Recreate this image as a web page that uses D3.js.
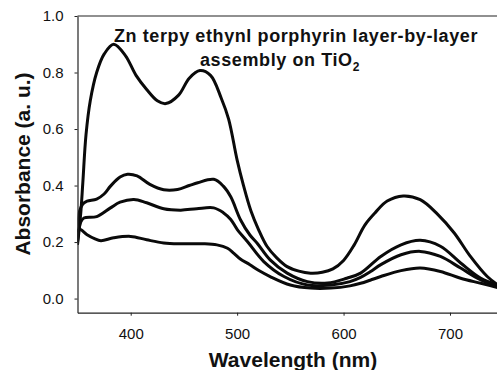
<!DOCTYPE html>
<html>
<head>
<meta charset="utf-8">
<script src="https://cdn.jsdelivr.net/npm/d3@7"></script>
<style>
  body { margin: 0; background: #fff; }
  text { font-family: "Liberation Sans", Arial, sans-serif; fill: #111; }
</style>
</head>
<body>
<script>
const w = 497;
const h = 370;

// spectra (wavelength in nm, absorbance in a.u.)
const wl1  = [350, 353, 355, 358, 362, 368, 375, 384, 395, 405, 415, 425, 433, 445, 455, 465, 475, 485, 492, 500, 506, 513, 520, 528, 537, 547, 558, 569, 580, 590, 600, 610, 620, 630, 641, 656, 672, 688, 704, 719, 735, 750];
const abs1 = [0.19, 0.30, 0.41, 0.58, 0.70, 0.80, 0.865, 0.90, 0.86, 0.79, 0.74, 0.70, 0.69, 0.72, 0.78, 0.807, 0.79, 0.71, 0.635, 0.49, 0.40, 0.31, 0.245, 0.185, 0.145, 0.113, 0.097, 0.09, 0.093, 0.105, 0.135, 0.19, 0.26, 0.305, 0.345, 0.363, 0.35, 0.30, 0.232, 0.15, 0.078, 0.035];

const wl2  = [350, 352, 355, 359, 368, 375, 381, 390, 397, 406, 418, 431, 444, 455, 463, 478, 487, 494, 503, 512, 519, 531, 547, 566, 585, 603, 616, 635, 654, 672, 691, 710, 729, 750];
const abs2 = [0.20, 0.31, 0.335, 0.345, 0.352, 0.37, 0.398, 0.43, 0.44, 0.434, 0.404, 0.385, 0.386, 0.40, 0.41, 0.422, 0.398, 0.36, 0.28, 0.225, 0.195, 0.137, 0.09, 0.06, 0.055, 0.072, 0.09, 0.149, 0.19, 0.206, 0.185, 0.126, 0.072, 0.042];

const wl3  = [350, 353, 356, 368, 381, 390, 403, 415, 431, 447, 462, 478, 487, 494, 500, 510, 525, 544, 566, 588, 606, 616, 625, 635, 654, 672, 691, 710, 729, 750];
const abs3 = [0.20, 0.27, 0.285, 0.29, 0.321, 0.341, 0.351, 0.339, 0.318, 0.313, 0.318, 0.321, 0.304, 0.28, 0.245, 0.20, 0.131, 0.078, 0.048, 0.048, 0.06, 0.075, 0.095, 0.12, 0.155, 0.167, 0.149, 0.108, 0.066, 0.038];

const wl4  = [350, 352, 359, 366, 372, 384, 400, 415, 431, 447, 468, 481, 491, 497, 503, 512, 520, 531, 550, 569, 588, 606, 616, 625, 635, 654, 672, 691, 710, 729, 750];
const abs4 = [0.235, 0.245, 0.226, 0.212, 0.205, 0.215, 0.22, 0.208, 0.197, 0.194, 0.194, 0.19, 0.178, 0.16, 0.14, 0.12, 0.10, 0.078, 0.048, 0.037, 0.037, 0.045, 0.054, 0.065, 0.078, 0.099, 0.108, 0.096, 0.072, 0.054, 0.034];

const xTicks = [400, 500, 600, 700];
const yTicks = [0.0, 0.2, 0.4, 0.6, 0.8, 1.0];

const titleLine1 = "Zn terpy ethynl porphyrin layer-by-layer";
const titleLine2 = "assembly on TiO";
const xLabel = "Wavelength (nm)";
const yLabel = "Absorbance (a. u.)";

///////////////////////

const padLeft = 77.5, padTop = 16, padBottom = 312.7;

const svg = d3.select("body")
              .append("svg")
              .attr("width", w)
              .attr("height", h);

const xScale = d3.scaleLinear()
                .domain([350, 750])
                .range([padLeft, 503.2]);

const yScale = d3.scaleLinear()
                .domain([-0.05, 1.0])
                .range([padBottom, padTop]);

svg.append("clipPath")
   .attr("id", "plot")
   .append("rect")
   .attr("x", padLeft)
   .attr("y", padTop)
   .attr("width", w - padLeft)
   .attr("height", padBottom - padTop);

const series = [
    [wl1, abs1],
    [wl2, abs2],
    [wl3, abs3],
    [wl4, abs4]
];

const line = d3.line()
               .x((d) => xScale(d[0]))
               .y((d) => yScale(d[1]))
               .curve(d3.curveCatmullRom.alpha(0.5));

svg.append("g")
   .attr("clip-path", "url(#plot)")
   .selectAll("path")
   .data(series)
   .enter()
   .append("path")
   .attr("d", (s) => line(d3.zip(s[0], s[1])))
   .attr("fill", "none")
   .attr("stroke", "#0a0a0a")
   .attr("stroke-width", 3)
   .attr("stroke-linejoin", "round");

// frame top
svg.append("line")
   .attr("x1", padLeft).attr("x2", w)
   .attr("y1", padTop).attr("y2", padTop)
   .attr("stroke", "#222")
   .attr("stroke-width", 1.2);

const xAxis = d3.axisBottom(xScale)
                .tickValues(xTicks)
                .tickSize(3)
                .tickSizeOuter(0)
                .tickPadding(13);

const gx = svg.append("g")
   .attr("transform", "translate(0," + padBottom + ")")
   .call(xAxis);

const yAxis = d3.axisLeft(yScale)
                .tickValues(yTicks)
                .tickFormat(d3.format(".1f"))
                .tickSize(3)
                .tickSizeOuter(0)
                .tickPadding(11);

const gy = svg.append("g")
   .attr("transform", "translate(" + padLeft + ",0)")
   .call(yAxis);

[gx, gy].forEach((g) => {
    g.select(".domain").attr("stroke", "#222").attr("stroke-width", 1.2);
    g.selectAll(".tick line").attr("stroke", "#222");
    g.selectAll(".tick text")
     .attr("font-family", "Liberation Sans, Arial, sans-serif")
     .attr("font-size", 15)
     .attr("fill", "#111");
});

svg.append("text")
   .attr("x", 293)
   .attr("y", 367)
   .attr("text-anchor", "middle")
   .attr("font-size", 21)
   .attr("font-weight", "bold")
   .text(xLabel);

svg.append("text")
   .attr("transform", "translate(30,164) rotate(-90)")
   .attr("text-anchor", "middle")
   .attr("font-size", 21)
   .attr("font-weight", "bold")
   .text(yLabel);

svg.append("text")
   .attr("x", 296)
   .attr("y", 42)
   .attr("text-anchor", "middle")
   .attr("font-size", 18)
   .attr("font-weight", "bold")
   .attr("letter-spacing", 0.6)
   .text(titleLine1);

const t2 = svg.append("text")
   .attr("x", 280)
   .attr("y", 65.5)
   .attr("text-anchor", "middle")
   .attr("font-size", 18)
   .attr("font-weight", "bold")
   .attr("letter-spacing", 0.6);
t2.append("tspan").text(titleLine2);
t2.append("tspan")
  .attr("font-size", 12)
  .attr("dy", 5)
  .text("2");
</script>
</body>
</html>
